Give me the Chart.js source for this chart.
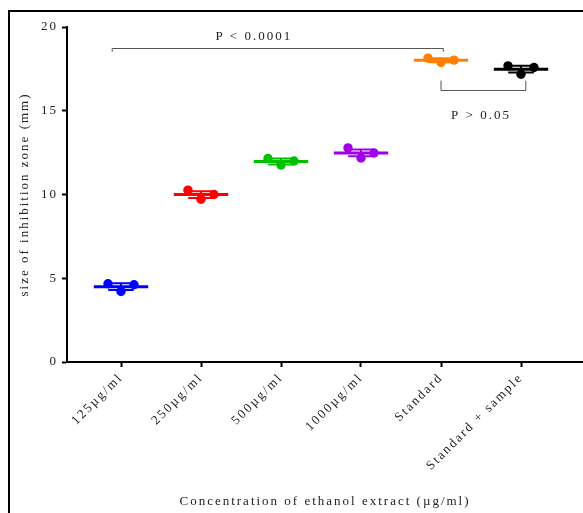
<!DOCTYPE html>
<html><head><meta charset="utf-8">
<style>html,body{margin:0;padding:0;background:#fff}</style>
<script src="https://cdn.jsdelivr.net/npm/chart.js@4"></script>
</head><body>
<canvas id="c" width="583" height="513"></canvas>
<script>
// ---- data ----
const categories = ['125µg/ml', '250µg/ml', '500µg/ml', '1000µg/ml', 'Standard', 'Standard + sample'];
const replicateA = [4.67, 10.26, 12.15, 12.78, 18.14, 17.68];
const replicateB = [4.21, 9.72, 11.76, 12.18, 17.88, 17.18];
const replicateC = [4.61, 10.00, 12.00, 12.48, 18.02, 17.58];
const errorBars = [0.20, 0.20, 0.18, 0.20, 0.12, 0.20];
const yTicks = [0, 5, 10, 15, 20];
const comparisons = [
  { from: 1, to: 5, label: 'P < 0.0001' },
  { from: 5, to: 6, label: 'P > 0.05' }
];
const yTitle = 'size of inhibition zone (mm)';
const xTitle = 'Concentration of ethanol extract (µg/ml)';

// ---- styles ----
const colors = ['#0000FF', '#FF0000', '#00C000', '#A000E6', '#FF8000', '#000000'];
const MEAN_HALF = 0.34, CAP_HALF = 0.16, JITTER = [-0.1625, 0, 0.1625];
const FONT = 'Liberation Serif';

const datasets = [];
categories.forEach((cat, i) => {
  const x = i + 1;
  const vals = [replicateA[i], replicateB[i], replicateC[i]];
  const m = vals.reduce((a, b) => a + b, 0) / vals.length;
  const e = errorBars[i];
  datasets.push({
    data: [{x: x - CAP_HALF, y: m + e}, {x: x + CAP_HALF, y: m + e}, {x: x, y: null},
           {x: x, y: m + e}, {x: x, y: m - e}, {x: x, y: null},
           {x: x - CAP_HALF, y: m - e}, {x: x + CAP_HALF, y: m - e}],
    showLine: true, spanGaps: false, borderColor: colors[i], borderWidth: 2, pointRadius: 0
  });
  datasets.push({
    data: [{x: x - MEAN_HALF, y: m}, {x: x + MEAN_HALF, y: m}],
    showLine: true, borderColor: colors[i], borderWidth: 3, pointRadius: 0
  });
  datasets.push({
    data: vals.map((v, k) => ({x: x + JITTER[k], y: v})),
    showLine: false, pointRadius: 4.7, pointHoverRadius: 4.7, borderWidth: 0,
    backgroundColor: colors[i], pointBackgroundColor: colors[i]
  });
});

const decor = {
  id: 'decor',
  beforeLayout(chart) { chart.ctx.letterSpacing = '2px'; },
  afterLayout(chart) {
    const ca = chart.chartArea, xs = chart.scales.x;
    if (ca.right < chart.width) {
      ca.right = chart.width;
      ca.width = ca.right - ca.left;
      xs.right = chart.width;
      xs.width = xs.right - xs.left;
      xs.configure();
    }
  },
  beforeDraw(chart) {
    const ctx = chart.ctx;
    ctx.save();
    ctx.fillStyle = '#fff';
    ctx.fillRect(0, 0, chart.width, chart.height);
    ctx.restore();
    ctx.letterSpacing = '2px';
  },
  afterDraw(chart) {
    const ctx = chart.ctx;
    const xs = chart.scales.x, ys = chart.scales.y;
    ctx.save();
    ctx.strokeStyle = '#000';
    ctx.lineWidth = 2;
    ctx.beginPath();
    ctx.moveTo(9, 513); ctx.lineTo(9, 11); ctx.lineTo(583, 11);
    ctx.stroke();
    ctx.strokeStyle = '#555';
    ctx.lineWidth = 1;
    ctx.fillStyle = '#222';
    ctx.font = '13px "' + FONT + '"';
    ctx.letterSpacing = '2px';
    ctx.textAlign = 'center';
    ctx.textBaseline = 'middle';
    const c1 = comparisons[0];
    let x1 = xs.getPixelForValue(c1.from - 0.11), x2 = xs.getPixelForValue(c1.to + 0.03);
    let yb = Math.round(ys.getPixelForValue(18.75)) + 0.5, yt = ys.getPixelForValue(18.52);
    ctx.beginPath();
    ctx.moveTo(x1, yt); ctx.lineTo(x1, yb); ctx.lineTo(x2, yb); ctx.lineTo(x2, yt);
    ctx.stroke();
    ctx.fillText(c1.label, xs.getPixelForValue(2.66), ys.getPixelForValue(19.43));
    const c2 = comparisons[1];
    x1 = xs.getPixelForValue(c2.from); x2 = xs.getPixelForValue(c2.to + 0.06);
    yb = Math.round(ys.getPixelForValue(16.26)) + 0.5; yt = ys.getPixelForValue(16.8);
    ctx.beginPath();
    ctx.moveTo(x1, yt); ctx.lineTo(x1, yb); ctx.lineTo(x2, yb); ctx.lineTo(x2, yt);
    ctx.stroke();
    ctx.fillText(c2.label, xs.getPixelForValue(5.5), ys.getPixelForValue(14.73));
    ctx.restore();
  }
};

Chart.defaults.font.family = FONT;
Chart.defaults.font.size = 13;
Chart.defaults.color = '#222';

new Chart(document.getElementById('c'), {
  type: 'scatter',
  data: { datasets },
  plugins: [decor],
  options: {
    responsive: false,
    devicePixelRatio: 1,
    animation: false,
    layout: { padding: { top: 27, right: 0, bottom: 0, left: 0 } },
    plugins: { legend: { display: false }, tooltip: { enabled: false } },
    scales: {
      x: {
        type: 'linear',
        min: 0.325, max: 6.775,
        afterBuildTicks: (s) => { s.ticks = categories.map((c, i) => ({ value: i + 1 })); },
        afterFit: (s) => { s.height = 151; s.paddingRight = 0; s.paddingLeft = 0; },
        ticks: {
          autoSkip: false, maxRotation: 45, minRotation: 45, padding: 3, color: '#222',
          callback: (v) => categories[v - 1] || ''
        },
        grid: { drawOnChartArea: false, tickLength: 5, tickColor: '#000', tickWidth: 2 },
        border: { color: '#000', width: 2 },
        title: { display: true, text: xTitle, color: '#222', padding: { top: 0, bottom: 4 }, font: { size: 13 } }
      },
      y: {
        min: 0, max: 20,
        afterBuildTicks: (s) => { s.ticks = yTicks.map(v => ({ value: v })); },
        afterFit: (s) => { s.width = 67; s.paddingTop = 0; s.paddingBottom = 0; },
        ticks: { padding: 4, color: '#222' },
        grid: { drawOnChartArea: false, tickLength: 5, tickColor: '#000', tickWidth: 2 },
        border: { color: '#000', width: 2 },
        title: { display: true, text: yTitle, color: '#222', padding: { top: 17, bottom: 0 }, font: { size: 13 } }
      }
    }
  }
});
</script>
</body></html>
